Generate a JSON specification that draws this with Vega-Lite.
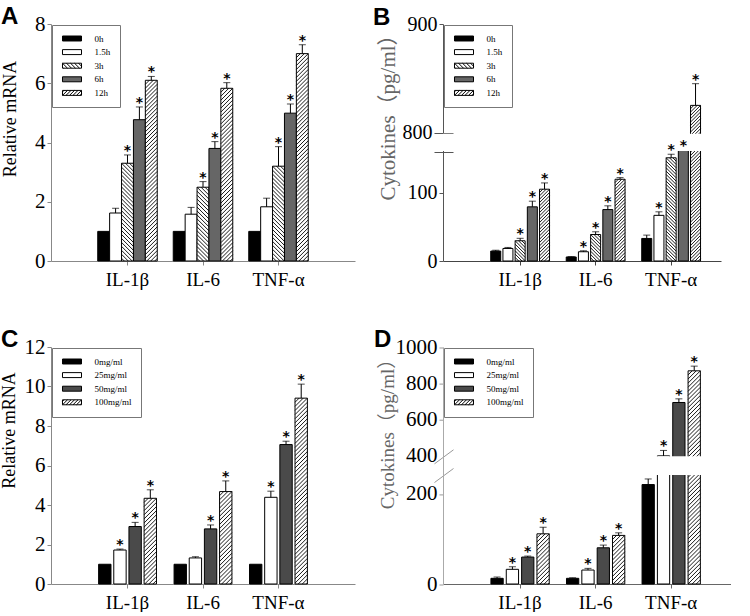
{
  "$schema": "https://vega.github.io/schema/vega-lite/v6.json",
  "background": "white",
  "padding": {"left": 0, "top": 5, "right": 0, "bottom": 0},
  "bounds": "flush",
  "columns": 2,
  "spacing": {"row": 86, "column": 88},
  "resolve": {"scale": {"fill": "independent", "shape": "independent", "xOffset": "independent"}, "legend": {"fill": "independent", "shape": "independent"}},
  "config": {
    "view": {"stroke": null},
    "axis": {"grid": false, "labelFont": "Liberation Serif", "labelColor": "black", "titleFont": "Liberation Serif", "titleFontWeight": "normal", "titleColor": "black", "domainColor": "#888888", "tickColor": "#888888", "tickSize": 4, "labelPadding": 2},
    "axisY": {"labelFontSize": 21, "titleFontSize": 18, "titleAlign": "center", "titleBaseline": "middle", "titleAngle": -90, "format": "d"},
    "axisX": {"labelAngle": 0, "labelFontSize": 19, "labelPadding": 5},
    "legend": {"orient": "top-left", "offset": 1, "padding": 9, "strokeColor": "#777777", "fillColor": "white", "symbolType": "M-3.17,-0.83H3.17V0.83H-3.17Z", "symbolSize": 36, "symbolOffset": 6.5, "symbolStrokeColor": "black", "symbolStrokeWidth": 1, "labelFont": "Liberation Serif", "labelFontSize": 9, "labelColor": "black", "labelOffset": 18, "rowPadding": 3.6},
    "title": {"font": "Liberation Sans", "fontWeight": "bold", "fontSize": 24, "anchor": "start", "frame": "group", "offset": 1, "dy": 17, "color": "black"}
  },
  "datasets": {
    "time_mrna": [
      {"gene": "IL-1β", "series": "0h", "value": 1, "upper": 1, "sig": false},
      {"gene": "IL-1β", "series": "1.5h", "value": 1.62, "upper": 1.78, "sig": false},
      {"gene": "IL-1β", "series": "3h", "value": 3.3, "upper": 3.58, "sig": true},
      {"gene": "IL-1β", "series": "6h", "value": 4.77, "upper": 5.2, "sig": true},
      {"gene": "IL-1β", "series": "12h", "value": 6.1, "upper": 6.23, "sig": true},
      {"gene": "IL-6", "series": "0h", "value": 1, "upper": 1, "sig": false},
      {"gene": "IL-6", "series": "1.5h", "value": 1.58, "upper": 1.81, "sig": false},
      {"gene": "IL-6", "series": "3h", "value": 2.49, "upper": 2.68, "sig": true},
      {"gene": "IL-6", "series": "6h", "value": 3.8, "upper": 4.03, "sig": true},
      {"gene": "IL-6", "series": "12h", "value": 5.83, "upper": 6.02, "sig": true},
      {"gene": "TNF-α", "series": "0h", "value": 1, "upper": 1, "sig": false},
      {"gene": "TNF-α", "series": "1.5h", "value": 1.83, "upper": 2.12, "sig": false},
      {"gene": "TNF-α", "series": "3h", "value": 3.2, "upper": 3.86, "sig": true},
      {"gene": "TNF-α", "series": "6h", "value": 4.99, "upper": 5.3, "sig": true},
      {"gene": "TNF-α", "series": "12h", "value": 7.0, "upper": 7.3, "sig": true}
    ],
    "time_cyto": [
      {"gene": "IL-1β", "series": "0h", "value": 14.6, "upper": 15.8, "sig": false},
      {"gene": "IL-1β", "series": "1.5h", "value": 18.4, "upper": 19.9, "sig": false},
      {"gene": "IL-1β", "series": "3h", "value": 29.7, "upper": 33.3, "sig": true},
      {"gene": "IL-1β", "series": "6h", "value": 79.5, "upper": 87.8, "sig": true},
      {"gene": "IL-1β", "series": "12h", "value": 105.4, "upper": 114.6, "sig": true},
      {"gene": "IL-6", "series": "0h", "value": 5.9, "upper": 6.4, "sig": false},
      {"gene": "IL-6", "series": "1.5h", "value": 13.6, "upper": 15, "sig": true},
      {"gene": "IL-6", "series": "3h", "value": 38.9, "upper": 42.9, "sig": true},
      {"gene": "IL-6", "series": "6h", "value": 75.5, "upper": 81, "sig": true},
      {"gene": "IL-6", "series": "12h", "value": 120, "upper": 122.4, "sig": true},
      {"gene": "TNF-α", "series": "0h", "value": 33.1, "upper": 38, "sig": false},
      {"gene": "TNF-α", "series": "1.5h", "value": 67, "upper": 72.2, "sig": true},
      {"gene": "TNF-α", "series": "3h", "value": 151.5, "upper": 156.7, "sig": true},
      {"gene": "TNF-α", "series": "6h", "value": 225, "upper": 240, "sig": true},
      {"gene": "TNF-α", "series": "12h", "value": 825, "upper": 845, "sig": true}
    ],
    "dose_mrna": [
      {"gene": "IL-1β", "series": "0mg/ml", "value": 1, "upper": 1, "sig": false},
      {"gene": "IL-1β", "series": "25mg/ml", "value": 1.72, "upper": 1.77, "sig": true},
      {"gene": "IL-1β", "series": "50mg/ml", "value": 2.91, "upper": 3.12, "sig": true},
      {"gene": "IL-1β", "series": "100mg/ml", "value": 4.34, "upper": 4.77, "sig": true},
      {"gene": "IL-6", "series": "0mg/ml", "value": 1, "upper": 1, "sig": false},
      {"gene": "IL-6", "series": "25mg/ml", "value": 1.32, "upper": 1.38, "sig": false},
      {"gene": "IL-6", "series": "50mg/ml", "value": 2.79, "upper": 2.99, "sig": true},
      {"gene": "IL-6", "series": "100mg/ml", "value": 4.68, "upper": 5.22, "sig": true},
      {"gene": "TNF-α", "series": "0mg/ml", "value": 1, "upper": 1, "sig": false},
      {"gene": "TNF-α", "series": "25mg/ml", "value": 4.39, "upper": 4.7, "sig": true},
      {"gene": "TNF-α", "series": "50mg/ml", "value": 7.06, "upper": 7.23, "sig": true},
      {"gene": "TNF-α", "series": "100mg/ml", "value": 9.41, "upper": 10.12, "sig": true}
    ],
    "dose_cyto": [
      {"gene": "IL-1β", "series": "0mg/ml", "value": 12.6, "upper": 15.5, "sig": false},
      {"gene": "IL-1β", "series": "25mg/ml", "value": 32.6, "upper": 38.3, "sig": true},
      {"gene": "IL-1β", "series": "50mg/ml", "value": 59.8, "upper": 62, "sig": true},
      {"gene": "IL-1β", "series": "100mg/ml", "value": 111.4, "upper": 126, "sig": true},
      {"gene": "IL-6", "series": "0mg/ml", "value": 12.6, "upper": 13.6, "sig": false},
      {"gene": "IL-6", "series": "25mg/ml", "value": 31, "upper": 34.7, "sig": true},
      {"gene": "IL-6", "series": "50mg/ml", "value": 80.4, "upper": 86.4, "sig": true},
      {"gene": "IL-6", "series": "100mg/ml", "value": 107.9, "upper": 113.6, "sig": true},
      {"gene": "TNF-α", "series": "0mg/ml", "value": 220.8, "upper": 233.2, "sig": false},
      {"gene": "TNF-α", "series": "25mg/ml", "value": 397, "upper": 427, "sig": true},
      {"gene": "TNF-α", "series": "50mg/ml", "value": 692.6, "upper": 712.8, "sig": true},
      {"gene": "TNF-α", "series": "100mg/ml", "value": 868, "upper": 894, "sig": true}
    ]
  },
  "concat": [
    {
      "width": 304, "height": 237,
      "title": {"text": "A", "dx": -50},
      "data": {"name": "time_mrna"},
      "encoding": {
        "x": {"field": "gene", "type": "nominal", "sort": ["IL-1β", "IL-6", "TNF-α"], "scale": {"paddingInner": 0.212, "paddingOuter": 0.619}, "axis": {"title": null}},
        "xOffset": {"field": "series", "type": "nominal", "sort": ["0h", "1.5h", "3h", "6h", "12h"], "scale": {"paddingInner": 0, "paddingOuter": 0}},
        "y": {"field": "value", "type": "quantitative", "scale": {"domain": [0, 8], "nice": false}, "axis": {"title": "Relative mRNA", "titleX": -41, "titleY": 94.5, "values": [0, 2, 4, 6, 8]}}
      },
      "layer": [
        {"mark": {"type": "bar", "stroke": "black", "strokeWidth": 1},
         "encoding": {"fill": {"field": "series", "type": "nominal", "scale": {"domain": ["0h", "1.5h", "3h", "6h", "12h"], "range": ["#000000", "#ffffff", "#ffffff", "#666666", "#ffffff"]},
           "legend": {"title": null, "labelExpr": "datum.label + '    '", "encoding": {"symbols": {"shape": {"condition": [{"test": "datum.value === '3h'", "value": "M-3.17,-0.83H3.17V0.83H-3.17ZM-3.17,0.5L-2.83,0.83M-3.17,-0.83L-1.5,0.83M-1.83,-0.83L-0.17,0.83M-0.5,-0.83L1.17,0.83M0.83,-0.83L2.5,0.83M2.17,-0.83L3.17,0.17"}, {"test": "datum.value === '12h'", "value": "M-3.17,-0.83H3.17V0.83H-3.17ZM-3.17,-0.33L-2.67,-0.83M-3.17,0.83L-1.5,-0.83M-2,0.83L-0.33,-0.83M-0.83,0.83L0.83,-0.83M0.33,0.83L2,-0.83M1.5,0.83L3.17,-0.83M2.67,0.83L3.17,0.33"}], "value": "M-3.17,-0.83H3.17V0.83H-3.17Z"}, "stroke": {"value": "black"}, "strokeWidth": {"value": 1}}}}}}},
        {"transform": [{"filter": "datum.series === '3h' || datum.series === '12h'"}],
         "mark": {"type": "point", "filled": false, "stroke": "black", "strokeWidth": 0.9, "opacity": 1, "size": 3.92, "clip": true},
         "encoding": {"shape": {"field": "series", "type": "nominal", "legend": null, "scale": {"domain": ["3h", "12h"], "range": [
           "M2,0L6,4M-2,0L6,8M-6,0l12,12M-6,4l12,12M-6,8l12,12M-6,12l12,12M-6,16l12,12M-6,20l12,12M-6,24l12,12M-6,28l12,12M-6,32l12,12M-6,36l12,12M-6,40l12,12M-6,44l12,12M-6,48l12,12M-6,52l12,12M-6,56l12,12M-6,60l12,12M-6,64l12,12M-6,68l12,12M-6,72l12,12M-6,76l12,12M-6,80l12,12M-6,84l12,12M-6,88l12,12M-6,92l12,12M-6,96l12,12M-6,100l12,12M-6,104l12,12M-6,108l12,12M-6,112l12,12M-6,116l12,12M-6,120l12,12M-6,124l12,12M-6,128l12,12M-6,132l12,12M-6,136l12,12M-6,140l12,12M-6,144l12,12M-6,148l12,12M-6,152l12,12M-6,156l12,12M-6,160l12,12M-6,164l12,12M-6,168l12,12M-6,172l12,12M-6,176l12,12M-6,180l12,12M-6,184l12,12M-6,188l12,12M-6,192l12,12M-6,196l12,12M-6,200l12,12M-6,204l12,12M-6,208l12,12M-6,212l12,12M-6,216l12,12M-6,220l12,12M-6,224l12,12M-6,228l12,12M-6,232l12,12M-6,236l12,12M-6,240l12,12M-6,244l12,12M-6,248l12,12M-6,252l12,12M-6,256l12,12M-6,260l12,12",
           "M-6,4L-2,0M-6,8L2,0M-6,12l12,-12M-6,16l12,-12M-6,20l12,-12M-6,24l12,-12M-6,28l12,-12M-6,32l12,-12M-6,36l12,-12M-6,40l12,-12M-6,44l12,-12M-6,48l12,-12M-6,52l12,-12M-6,56l12,-12M-6,60l12,-12M-6,64l12,-12M-6,68l12,-12M-6,72l12,-12M-6,76l12,-12M-6,80l12,-12M-6,84l12,-12M-6,88l12,-12M-6,92l12,-12M-6,96l12,-12M-6,100l12,-12M-6,104l12,-12M-6,108l12,-12M-6,112l12,-12M-6,116l12,-12M-6,120l12,-12M-6,124l12,-12M-6,128l12,-12M-6,132l12,-12M-6,136l12,-12M-6,140l12,-12M-6,144l12,-12M-6,148l12,-12M-6,152l12,-12M-6,156l12,-12M-6,160l12,-12M-6,164l12,-12M-6,168l12,-12M-6,172l12,-12M-6,176l12,-12M-6,180l12,-12M-6,184l12,-12M-6,188l12,-12M-6,192l12,-12M-6,196l12,-12M-6,200l12,-12M-6,204l12,-12M-6,208l12,-12M-6,212l12,-12M-6,216l12,-12M-6,220l12,-12M-6,224l12,-12M-6,228l12,-12M-6,232l12,-12M-6,236l12,-12M-6,240l12,-12M-6,244l12,-12M-6,248l12,-12M-6,252l12,-12M-6,256l12,-12M-6,260l12,-12M-6,264l12,-12M-6,268l12,-12M-6,272l12,-12"]}}}},
        {"transform": [{"filter": "datum.upper > datum.value"}], "mark": {"type": "rule", "color": "black", "strokeWidth": 1}, "encoding": {"y2": {"field": "upper"}}},
        {"transform": [{"filter": "datum.upper > datum.value"}], "mark": {"type": "tick", "color": "black", "thickness": 1, "size": 7}, "encoding": {"y": {"field": "upper", "type": "quantitative"}}},
        {"transform": [{"filter": "datum.sig"}], "mark": {"type": "text", "text": "*", "font": "DejaVu Sans", "fontWeight": "bold", "fontSize": 14, "baseline": "alphabetic", "align": "center", "color": "black"}, "encoding": {"y": {"field": "upper", "type": "quantitative"}}}
      ]
    },
    {
      "width": 278, "height": 237,
      "title": {"text": "B", "dx": -70},
      "layer": [
        {
          "data": {"name": "time_cyto"},
          "encoding": {
            "x": {"field": "gene", "type": "nominal", "sort": ["IL-1β", "IL-6", "TNF-α"], "scale": {"paddingInner": 0.221, "paddingOuter": 0.4515, "align": 0.7}, "axis": {"title": null, "domainColor": "#444444", "tickColor": "#444444"}},
            "xOffset": {"field": "series", "type": "nominal", "sort": ["0h", "1.5h", "3h", "6h", "12h"], "scale": {"paddingInner": 0.18, "paddingOuter": 0}},
            "y": {"field": "value", "type": "quantitative", "scale": {"domain": [0, 160, 800, 900], "range": [237, 128, 108.5, 0], "nice": false},
              "axis": {"title": "Cytokines（pg/ml）", "titleFont": "Liberation Serif, Noto Sans CJK SC", "titleFontSize": 21, "titleColor": "#666666", "titleX": -55, "titleY": 88, "values": [0, 100, 160, 800, 900], "labelExpr": "datum.value == 160 ? '' : datum.label", "labelFontSize": 20, "domainColor": "#555555", "tickColor": "#555555",
                "tickSize": {"condition": {"test": "datum.value == 800 || datum.value == 160", "value": 9}, "value": 4},
                "grid": true, "gridColor": "#555555", "gridDash": [10, 1000], "gridWidth": 1,
                "gridOpacity": {"condition": {"test": "datum.value == 800 || datum.value == 160", "value": 1}, "value": 0}}}
          },
          "layer": [
            {"mark": {"type": "bar", "stroke": "black", "strokeWidth": 1},
             "encoding": {"fill": {"field": "series", "type": "nominal", "scale": {"domain": ["0h", "1.5h", "3h", "6h", "12h"], "range": ["#000000", "#ffffff", "#ffffff", "#666666", "#ffffff"]},
               "legend": {"title": null, "labelExpr": "datum.label + ' '", "encoding": {"symbols": {"shape": {"condition": [{"test": "datum.value === '3h'", "value": "M-3.17,-0.83H3.17V0.83H-3.17ZM-3.17,0.5L-2.83,0.83M-3.17,-0.83L-1.5,0.83M-1.83,-0.83L-0.17,0.83M-0.5,-0.83L1.17,0.83M0.83,-0.83L2.5,0.83M2.17,-0.83L3.17,0.17"}, {"test": "datum.value === '12h'", "value": "M-3.17,-0.83H3.17V0.83H-3.17ZM-3.17,-0.33L-2.67,-0.83M-3.17,0.83L-1.5,-0.83M-2,0.83L-0.33,-0.83M-0.83,0.83L0.83,-0.83M0.33,0.83L2,-0.83M1.5,0.83L3.17,-0.83M2.67,0.83L3.17,0.33"}], "value": "M-3.17,-0.83H3.17V0.83H-3.17Z"}, "stroke": {"value": "black"}, "strokeWidth": {"value": 1}}}}}}},
            {"transform": [{"filter": "datum.series === '3h' || datum.series === '12h'"}],
             "mark": {"type": "point", "filled": false, "stroke": "black", "strokeWidth": 0.9, "opacity": 1, "size": 2.78, "clip": true},
             "encoding": {"shape": {"field": "series", "type": "nominal", "legend": null, "scale": {"domain": ["3h", "12h"], "range": [
               "M2,0L6,4M-2,0L6,8M-6,0l12,12M-6,4l12,12M-6,8l12,12M-6,12l12,12M-6,16l12,12M-6,20l12,12M-6,24l12,12M-6,28l12,12M-6,32l12,12M-6,36l12,12M-6,40l12,12M-6,44l12,12M-6,48l12,12M-6,52l12,12M-6,56l12,12M-6,60l12,12M-6,64l12,12M-6,68l12,12M-6,72l12,12M-6,76l12,12M-6,80l12,12M-6,84l12,12M-6,88l12,12M-6,92l12,12M-6,96l12,12M-6,100l12,12M-6,104l12,12M-6,108l12,12M-6,112l12,12M-6,116l12,12M-6,120l12,12M-6,124l12,12M-6,128l12,12M-6,132l12,12M-6,136l12,12M-6,140l12,12M-6,144l12,12M-6,148l12,12M-6,152l12,12M-6,156l12,12M-6,160l12,12M-6,164l12,12M-6,168l12,12M-6,172l12,12M-6,176l12,12M-6,180l12,12M-6,184l12,12M-6,188l12,12M-6,192l12,12M-6,196l12,12M-6,200l12,12M-6,204l12,12M-6,208l12,12M-6,212l12,12M-6,216l12,12M-6,220l12,12M-6,224l12,12M-6,228l12,12M-6,232l12,12M-6,236l12,12M-6,240l12,12M-6,244l12,12M-6,248l12,12M-6,252l12,12M-6,256l12,12M-6,260l12,12",
               "M-6,4L-2,0M-6,8L2,0M-6,12l12,-12M-6,16l12,-12M-6,20l12,-12M-6,24l12,-12M-6,28l12,-12M-6,32l12,-12M-6,36l12,-12M-6,40l12,-12M-6,44l12,-12M-6,48l12,-12M-6,52l12,-12M-6,56l12,-12M-6,60l12,-12M-6,64l12,-12M-6,68l12,-12M-6,72l12,-12M-6,76l12,-12M-6,80l12,-12M-6,84l12,-12M-6,88l12,-12M-6,92l12,-12M-6,96l12,-12M-6,100l12,-12M-6,104l12,-12M-6,108l12,-12M-6,112l12,-12M-6,116l12,-12M-6,120l12,-12M-6,124l12,-12M-6,128l12,-12M-6,132l12,-12M-6,136l12,-12M-6,140l12,-12M-6,144l12,-12M-6,148l12,-12M-6,152l12,-12M-6,156l12,-12M-6,160l12,-12M-6,164l12,-12M-6,168l12,-12M-6,172l12,-12M-6,176l12,-12M-6,180l12,-12M-6,184l12,-12M-6,188l12,-12M-6,192l12,-12M-6,196l12,-12M-6,200l12,-12M-6,204l12,-12M-6,208l12,-12M-6,212l12,-12M-6,216l12,-12M-6,220l12,-12M-6,224l12,-12M-6,228l12,-12M-6,232l12,-12M-6,236l12,-12M-6,240l12,-12M-6,244l12,-12M-6,248l12,-12M-6,252l12,-12M-6,256l12,-12M-6,260l12,-12M-6,264l12,-12M-6,268l12,-12M-6,272l12,-12"]}}}},
            {"transform": [{"filter": "datum.upper > datum.value"}], "mark": {"type": "rule", "color": "black", "strokeWidth": 1}, "encoding": {"y2": {"field": "upper"}}},
            {"transform": [{"filter": "datum.upper > datum.value"}], "mark": {"type": "tick", "color": "black", "thickness": 1, "size": 7}, "encoding": {"y": {"field": "upper", "type": "quantitative"}}}
          ]
        },
        {"data": {"values": [{}]}, "mark": {"type": "rect", "fill": "white"}, "encoding": {"y": {"datum": 195}, "y2": {"datum": 760}}},
        {"data": {"name": "time_cyto"}, "transform": [{"filter": "datum.sig"}],
         "mark": {"type": "text", "text": "*", "font": "DejaVu Sans", "fontWeight": "bold", "fontSize": 14, "baseline": "alphabetic", "align": "center", "color": "black"},
         "encoding": {
           "x": {"field": "gene", "type": "nominal", "sort": ["IL-1β", "IL-6", "TNF-α"], "scale": {"paddingInner": 0.221, "paddingOuter": 0.4515, "align": 0.7}},
           "xOffset": {"field": "series", "type": "nominal", "sort": ["0h", "1.5h", "3h", "6h", "12h"], "scale": {"paddingInner": 0.18, "paddingOuter": 0}},
           "y": {"field": "upper", "type": "quantitative"}
         }}
      ]
    },
    {
      "width": 304, "height": 237,
      "title": {"text": "C", "dx": -50},
      "data": {"name": "dose_mrna"},
      "encoding": {
        "x": {"field": "gene", "type": "nominal", "sort": ["IL-1β", "IL-6", "TNF-α"], "scale": {"paddingInner": 0.233, "paddingOuter": 0.631}, "axis": {"title": null}},
        "xOffset": {"field": "series", "type": "nominal", "sort": ["0mg/ml", "25mg/ml", "50mg/ml", "100mg/ml"], "scale": {"paddingInner": 0.185, "paddingOuter": 0}},
        "y": {"field": "value", "type": "quantitative", "scale": {"domain": [0, 12], "nice": false}, "axis": {"title": "Relative mRNA", "titleX": -42, "titleY": 83, "values": [0, 2, 4, 6, 8, 10, 12]}}
      },
      "layer": [
        {"mark": {"type": "bar", "stroke": "black", "strokeWidth": 1},
         "encoding": {"fill": {"field": "series", "type": "nominal", "scale": {"domain": ["0mg/ml", "25mg/ml", "50mg/ml", "100mg/ml"], "range": ["#000000", "#ffffff", "#4a4a4a", "#ffffff"]},
           "legend": {"title": null, "labelExpr": "datum.label + '  '", "encoding": {"symbols": {"shape": {"condition": [{"test": "datum.value === '100mg/ml'", "value": "M-3.17,-0.83H3.17V0.83H-3.17ZM-3.17,-0.33L-2.67,-0.83M-3.17,0.83L-1.5,-0.83M-2,0.83L-0.33,-0.83M-0.83,0.83L0.83,-0.83M0.33,0.83L2,-0.83M1.5,0.83L3.17,-0.83M2.67,0.83L3.17,0.33"}], "value": "M-3.17,-0.83H3.17V0.83H-3.17Z"}, "stroke": {"value": "black"}, "strokeWidth": {"value": 1}}}}}}},
        {"transform": [{"filter": "datum.series === '100mg/ml'"}],
         "mark": {"type": "point", "filled": false, "stroke": "black", "strokeWidth": 0.9, "opacity": 1, "size": 4.22, "clip": true},
         "encoding": {"shape": {"field": "series", "type": "nominal", "legend": null, "scale": {"domain": ["100mg/ml"], "range": [
           "M-6,4L-2,0M-6,8L2,0M-6,12l12,-12M-6,16l12,-12M-6,20l12,-12M-6,24l12,-12M-6,28l12,-12M-6,32l12,-12M-6,36l12,-12M-6,40l12,-12M-6,44l12,-12M-6,48l12,-12M-6,52l12,-12M-6,56l12,-12M-6,60l12,-12M-6,64l12,-12M-6,68l12,-12M-6,72l12,-12M-6,76l12,-12M-6,80l12,-12M-6,84l12,-12M-6,88l12,-12M-6,92l12,-12M-6,96l12,-12M-6,100l12,-12M-6,104l12,-12M-6,108l12,-12M-6,112l12,-12M-6,116l12,-12M-6,120l12,-12M-6,124l12,-12M-6,128l12,-12M-6,132l12,-12M-6,136l12,-12M-6,140l12,-12M-6,144l12,-12M-6,148l12,-12M-6,152l12,-12M-6,156l12,-12M-6,160l12,-12M-6,164l12,-12M-6,168l12,-12M-6,172l12,-12M-6,176l12,-12M-6,180l12,-12M-6,184l12,-12M-6,188l12,-12M-6,192l12,-12M-6,196l12,-12M-6,200l12,-12M-6,204l12,-12M-6,208l12,-12M-6,212l12,-12M-6,216l12,-12M-6,220l12,-12M-6,224l12,-12M-6,228l12,-12M-6,232l12,-12M-6,236l12,-12M-6,240l12,-12M-6,244l12,-12M-6,248l12,-12M-6,252l12,-12M-6,256l12,-12M-6,260l12,-12M-6,264l12,-12M-6,268l12,-12M-6,272l12,-12"]}}}},
        {"transform": [{"filter": "datum.upper > datum.value"}], "mark": {"type": "rule", "color": "black", "strokeWidth": 1}, "encoding": {"y2": {"field": "upper"}}},
        {"transform": [{"filter": "datum.upper > datum.value"}], "mark": {"type": "tick", "color": "black", "thickness": 1, "size": 7}, "encoding": {"y": {"field": "upper", "type": "quantitative"}}},
        {"transform": [{"filter": "datum.sig"}], "mark": {"type": "text", "text": "*", "font": "DejaVu Sans", "fontWeight": "bold", "fontSize": 14, "baseline": "alphabetic", "align": "center", "color": "black"}, "encoding": {"y": {"field": "upper", "type": "quantitative"}}}
      ]
    },
    {
      "name": "pD",
      "width": 288, "height": 237,
      "title": {"text": "D", "dx": -69},
      "layer": [
        {
          "data": {"name": "dose_cyto"},
          "encoding": {
            "x": {"field": "gene", "type": "nominal", "sort": ["IL-1β", "IL-6", "TNF-α"], "scale": {"paddingInner": 0.2285, "paddingOuter": 0.52, "align": 0.61}, "axis": {"title": null, "domainColor": "#666666", "tickColor": "#666666"}},
            "xOffset": {"field": "series", "type": "nominal", "sort": ["0mg/ml", "25mg/ml", "50mg/ml", "100mg/ml"], "scale": {"paddingInner": 0.2, "paddingOuter": 0}},
            "y": {"field": "value", "type": "quantitative", "scale": {"domain": [0, 242, 394.5, 1000], "range": [237, 128, 109.3, 0], "nice": false},
              "axis": {"title": "Cytokines（pg/ml）", "titleFont": "Liberation Serif, Noto Sans CJK SC", "titleFontSize": 19, "titleColor": "#666666", "titleX": -56, "titleY": 82,
                "values": [0, 200, 400, 600, 800, 1000],
                "labelFontSize": 21, "zindex": 1, "domainColor": "#aaaaaa", "tickColor": "#999999",
                "grid": true, "gridColor": "#999999", "gridWidth": 1,
                "gridOpacity": {"condition": {"test": "datum.value == 200", "value": 1}, "value": 0},
                "encoding": {
                  "ticks": {
                    "x": {"condition": {"test": "datum.value == 400", "value": -9}, "value": 0},
                    "x2": {"condition": {"test": "datum.value == 400", "value": 10}, "value": -4},
                    "y": {"condition": {"test": "datum.value == 400", "value": {"signal": "scale('pD_y', 394.5) + 7"}}, "value": {"signal": "scale('pD_y', datum.value) + 0.5"}},
                    "y2": {"condition": {"test": "datum.value == 400", "value": {"signal": "scale('pD_y', 394.5) - 7"}}, "value": {"signal": "scale('pD_y', datum.value) + 0.5"}}
                  },
                  "grid": {
                    "x": {"value": -9},
                    "x2": {"value": 10},
                    "y": {"value": {"signal": "scale('pD_y', 242) + 7"}},
                    "y2": {"value": {"signal": "scale('pD_y', 242) - 7"}}
                  }
                }}}
          },
          "layer": [
            {"mark": {"type": "bar", "stroke": "black", "strokeWidth": 1},
             "encoding": {"fill": {"field": "series", "type": "nominal", "scale": {"domain": ["0mg/ml", "25mg/ml", "50mg/ml", "100mg/ml"], "range": ["#000000", "#ffffff", "#4a4a4a", "#ffffff"]},
               "legend": {"title": null, "labelExpr": "datum.label + '  '", "encoding": {"symbols": {"shape": {"condition": [{"test": "datum.value === '100mg/ml'", "value": "M-3.17,-0.83H3.17V0.83H-3.17ZM-3.17,-0.33L-2.67,-0.83M-3.17,0.83L-1.5,-0.83M-2,0.83L-0.33,-0.83M-0.83,0.83L0.83,-0.83M0.33,0.83L2,-0.83M1.5,0.83L3.17,-0.83M2.67,0.83L3.17,0.33"}], "value": "M-3.17,-0.83H3.17V0.83H-3.17Z"}, "stroke": {"value": "black"}, "strokeWidth": {"value": 1}}}}}}},
            {"transform": [{"filter": "datum.series === '100mg/ml'"}],
             "mark": {"type": "point", "filled": false, "stroke": "black", "strokeWidth": 0.9, "opacity": 1, "size": 4.2, "clip": true},
             "encoding": {"shape": {"field": "series", "type": "nominal", "legend": null, "scale": {"domain": ["100mg/ml"], "range": [
               "M-6,4L-2,0M-6,8L2,0M-6,12l12,-12M-6,16l12,-12M-6,20l12,-12M-6,24l12,-12M-6,28l12,-12M-6,32l12,-12M-6,36l12,-12M-6,40l12,-12M-6,44l12,-12M-6,48l12,-12M-6,52l12,-12M-6,56l12,-12M-6,60l12,-12M-6,64l12,-12M-6,68l12,-12M-6,72l12,-12M-6,76l12,-12M-6,80l12,-12M-6,84l12,-12M-6,88l12,-12M-6,92l12,-12M-6,96l12,-12M-6,100l12,-12M-6,104l12,-12M-6,108l12,-12M-6,112l12,-12M-6,116l12,-12M-6,120l12,-12M-6,124l12,-12M-6,128l12,-12M-6,132l12,-12M-6,136l12,-12M-6,140l12,-12M-6,144l12,-12M-6,148l12,-12M-6,152l12,-12M-6,156l12,-12M-6,160l12,-12M-6,164l12,-12M-6,168l12,-12M-6,172l12,-12M-6,176l12,-12M-6,180l12,-12M-6,184l12,-12M-6,188l12,-12M-6,192l12,-12M-6,196l12,-12M-6,200l12,-12M-6,204l12,-12M-6,208l12,-12M-6,212l12,-12M-6,216l12,-12M-6,220l12,-12M-6,224l12,-12M-6,228l12,-12M-6,232l12,-12M-6,236l12,-12M-6,240l12,-12M-6,244l12,-12M-6,248l12,-12M-6,252l12,-12M-6,256l12,-12M-6,260l12,-12M-6,264l12,-12M-6,268l12,-12M-6,272l12,-12"]}}}},
            {"transform": [{"filter": "datum.upper > datum.value"}], "mark": {"type": "rule", "color": "black", "strokeWidth": 1}, "encoding": {"y2": {"field": "upper"}}},
            {"transform": [{"filter": "datum.upper > datum.value"}], "mark": {"type": "tick", "color": "black", "thickness": 1, "size": 7}, "encoding": {"y": {"field": "upper", "type": "quantitative"}}}
          ]
        },
        {"data": {"values": [{}]}, "mark": {"type": "rect", "fill": "white"}, "encoding": {"y": {"datum": 242}, "y2": {"datum": 394.5}}},
        {"data": {"name": "dose_cyto"}, "transform": [{"filter": "datum.sig"}],
         "mark": {"type": "text", "text": "*", "font": "DejaVu Sans", "fontWeight": "bold", "fontSize": 14, "baseline": "alphabetic", "align": "center", "color": "black"},
         "encoding": {
           "x": {"field": "gene", "type": "nominal", "sort": ["IL-1β", "IL-6", "TNF-α"], "scale": {"paddingInner": 0.2285, "paddingOuter": 0.52, "align": 0.61}},
           "xOffset": {"field": "series", "type": "nominal", "sort": ["0mg/ml", "25mg/ml", "50mg/ml", "100mg/ml"], "scale": {"paddingInner": 0.2, "paddingOuter": 0}},
           "y": {"field": "upper", "type": "quantitative"}
         }}
      ]
    }
  ]
}
